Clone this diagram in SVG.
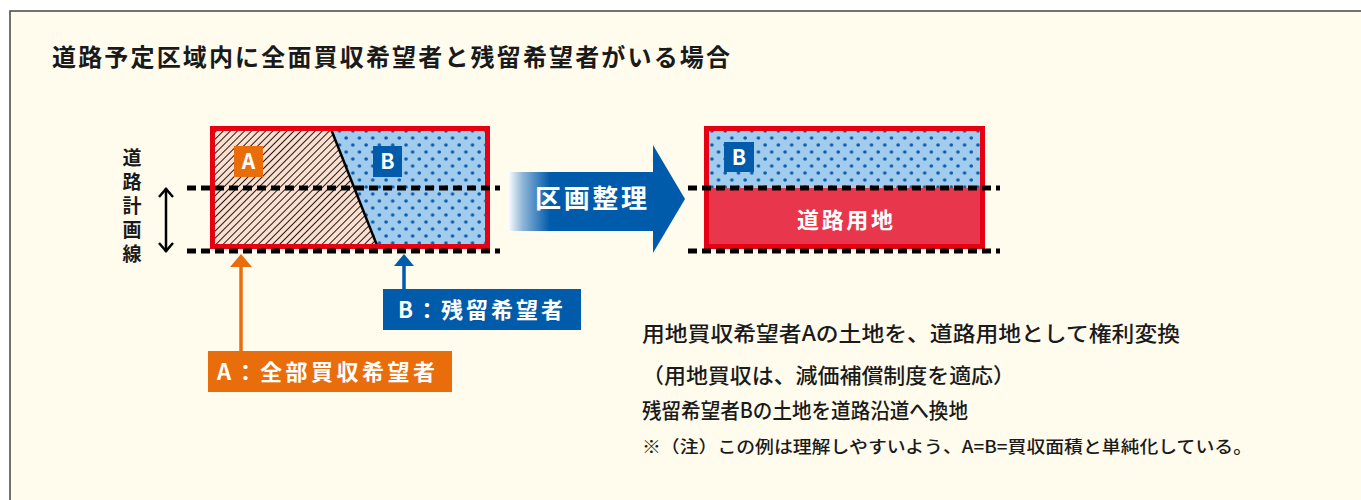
<svg xmlns="http://www.w3.org/2000/svg" width="1361" height="500" viewBox="0 0 1361 500">
<defs>
<style>
.jp{font-family:"Noto Sans CJK JP","Noto Sans",sans-serif;}
.b{font-weight:700;}
.w{fill:#ffffff;}
.k{fill:#1a1a1a;}
.dash{stroke:#000;stroke-width:5;stroke-dasharray:9 5;fill:none;}
.red{fill:none;stroke:#e60012;stroke-width:5;}
</style>
<pattern id="hatch" patternUnits="userSpaceOnUse" width="5" height="10" patternTransform="rotate(45)">
<rect x="0" y="0" width="5" height="10" fill="#fcdfcf"/>
<line x1="0.5" y1="0" x2="0.5" y2="10" stroke="#1a1a1a" stroke-width="1"/>
</pattern>
<pattern id="dots" patternUnits="userSpaceOnUse" width="13.3" height="14" x="4" y="2">
<rect x="0" y="0" width="13.3" height="14" fill="#a2ccee"/>
<circle cx="3" cy="3" r="1.8" fill="#0b5dae"/>
<circle cx="9.65" cy="10" r="1.8" fill="#0b5dae"/>
</pattern>
<linearGradient id="grad" gradientUnits="userSpaceOnUse" x1="508" y1="0" x2="550" y2="0">
<stop offset="0" stop-color="#ffffff"/>
<stop offset="0.35" stop-color="#8fb5d8"/>
<stop offset="1" stop-color="#005bab"/>
</linearGradient>
</defs>
<rect x="0" y="0" width="1361" height="500" fill="#ffffff"/>
<rect x="10" y="11" width="1360" height="500" fill="#fffcee" stroke="#444" stroke-width="1.5"/>

<text class="jp b k" x="52" y="66" font-size="24" textLength="678" lengthAdjust="spacing">道路予定区域内に全面買収希望者と残留希望者がいる場合</text>

<g id="line-label">
<text class="jp b k" font-size="19" x="132" y="148" style="writing-mode:vertical-rl;letter-spacing:5px">道路計画線</text>
<g fill="none" stroke="#000" stroke-width="2.5">
<line x1="166" y1="188" x2="166" y2="252"/>
<polyline points="159,197 166,189 173,197"/>
<polyline points="159,243 166,251 173,243"/>
</g>
</g>

<g id="before">
<polygon points="214,131 332,131 378,247 214,247" fill="url(#hatch)"/>
<polygon points="332,131 488,131 488,247 378,247" fill="url(#dots)"/>
<line x1="331" y1="129" x2="378" y2="248" stroke="#000" stroke-width="2.5"/>
<rect class="red" x="212.5" y="128.5" width="275" height="118"/>
<rect x="234" y="146" width="29" height="31" fill="#ea6d0b"/>
<text class="jp b w" x="248.5" y="169" font-size="21" text-anchor="middle">A</text>
<rect x="373" y="146" width="29" height="31" fill="#005bab"/>
<text class="jp b w" x="387.5" y="169" font-size="21" text-anchor="middle">B</text>
</g>

<g id="process-arrow">
<rect x="508" y="172" width="147" height="59" fill="url(#grad)"/>
<polygon points="653,145 685,199 653,253" fill="#005bab"/>
<text class="jp b w" x="591" y="208" font-size="26" text-anchor="middle" textLength="112" lengthAdjust="spacing">区画整理</text>
</g>

<g id="after">
<rect x="707" y="131" width="276" height="57" fill="url(#dots)"/>
<rect x="707" y="188" width="276" height="59" fill="#e8374c"/>
<rect class="red" x="706.5" y="128.5" width="276" height="118"/>
<rect x="724" y="142" width="30" height="30" fill="#005bab"/>
<text class="jp b w" x="739" y="165" font-size="21" text-anchor="middle">B</text>
<text class="jp b w" x="845" y="228" font-size="22" text-anchor="middle" textLength="96" lengthAdjust="spacing">道路用地</text>
</g>

<g id="connectors">
<line class="dash" x1="187" y1="188" x2="500" y2="188"/>
<line class="dash" x1="187" y1="251" x2="500" y2="251"/>
<line class="dash" x1="688" y1="188" x2="1000" y2="188"/>
<line class="dash" x1="688" y1="251" x2="1000" y2="251"/>
<line x1="241" y1="264" x2="241" y2="352" stroke="#ea6d0b" stroke-width="3.5"/>
<polygon points="241,254 252,267 230,267" fill="#ea6d0b"/>
<line x1="404" y1="264" x2="404" y2="290" stroke="#005bab" stroke-width="3.5"/>
<polygon points="404,254 414,266 394,266" fill="#005bab"/>
</g>

<g id="label-a">
<rect x="208" y="351" width="244" height="41" fill="#ea6d0b"/>
<text class="jp b w" x="217" y="380" font-size="22" textLength="218" lengthAdjust="spacing">A：全部買収希望者</text>
</g>
<g id="label-b">
<rect x="383" y="289" width="198" height="41" fill="#005bab"/>
<text class="jp b w" x="398" y="318" font-size="22" textLength="165" lengthAdjust="spacing">B：残留希望者</text>
</g>

<g id="notes">
<text class="jp k" x="642" y="341" font-size="21" font-weight="500" textLength="538" lengthAdjust="spacingAndGlyphs">用地買収希望者Aの土地を、道路用地として権利変換</text>
<text class="jp k" x="642" y="383" font-size="21" font-weight="500" textLength="373" lengthAdjust="spacingAndGlyphs">（用地買収は、減価補償制度を適応）</text>
<text class="jp k" x="642" y="418" font-size="21" font-weight="500" textLength="326" lengthAdjust="spacingAndGlyphs">残留希望者Bの土地を道路沿道へ換地</text>
<text class="jp k" x="642" y="453" font-size="17" font-weight="500" textLength="610" lengthAdjust="spacingAndGlyphs">※（注）この例は理解しやすいよう、A=B=買収面積と単純化している。</text>
</g>
</svg>
